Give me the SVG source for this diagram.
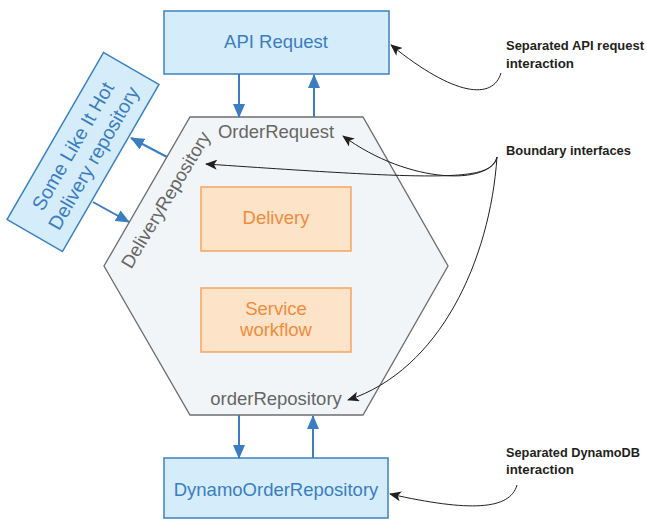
<svg xmlns="http://www.w3.org/2000/svg" width="647" height="520" viewBox="0 0 647 520">
<style>
.blue{fill:#d5ecfa;stroke:#3b82c4;stroke-width:1.5}
.btxt{font-family:"Liberation Sans",Arial,sans-serif;font-size:18.5px;fill:#3b7dc0;text-anchor:middle}
.gtxt{font-family:"Liberation Sans",Arial,sans-serif;font-size:18.5px;fill:#666;text-anchor:middle}
.org{fill:#fde4c8;stroke:#f5a55f;stroke-width:1.5}
.otxt{font-family:"Liberation Sans",Arial,sans-serif;font-size:18.5px;fill:#f28b3c;text-anchor:middle}
.ann{font-family:"Liberation Sans",Arial,sans-serif;font-size:13px;font-weight:bold;fill:#231f20}
.bl{stroke:#3b7dc0;stroke-width:2;fill:none;marker-end:url(#ab)}
.kl{stroke:#231f20;stroke-width:1;fill:none;marker-end:url(#ak)}
</style>
<defs>
<marker id="ab" markerUnits="userSpaceOnUse" markerWidth="14" markerHeight="12" viewBox="0 0 14 12" refX="13" refY="6" orient="auto"><path d="M0,0 L14,6 L0,12 Z" fill="#3b7dc0"/></marker>
<marker id="ak" markerUnits="userSpaceOnUse" markerWidth="12" markerHeight="10" viewBox="0 0 12 10" refX="11" refY="5" orient="auto"><path d="M0,0 L12,5 L0,10 L3,5 Z" fill="#231f20"/></marker>
</defs>
<g id="hexagon">
<polygon points="190,117 363,117 448,266 363,415 190,415 104,266" fill="#f1f5f7" stroke="#6d6d6d" stroke-width="1.3"/>
<text class="gtxt" x="276" y="138">OrderRequest</text>
<text class="gtxt" x="276" y="405">orderRepository</text>
<text class="gtxt" transform="translate(166,200) rotate(-59)" x="0" y="6">DeliveryRepository</text>
</g>
<g id="api-request">
<rect class="blue" x="164" y="11" width="225" height="63"/>
<text class="btxt" x="276" y="48">API Request</text>
</g>
<g id="dynamo">
<rect class="blue" x="164" y="458" width="224" height="60"/>
<text class="btxt" x="276" y="496">DynamoOrderRepository</text>
</g>
<g id="delivery">
<rect class="org" x="201" y="187" width="150" height="64"/>
<text class="otxt" x="276" y="224">Delivery</text>
</g>
<g id="workflow">
<rect class="org" x="201" y="288" width="150" height="64"/>
<text class="otxt" x="276" y="315">Service</text>
<text class="otxt" x="276" y="336">workflow</text>
</g>
<g id="some-like-it-hot" transform="translate(83,152) rotate(-60)">
<rect class="blue" x="-96.5" y="-32" width="193" height="64"/>
<text class="btxt" x="0" y="-5" style="font-size:19.5px">Some Like It Hot</text>
<text class="btxt" x="0" y="19" style="font-size:19.5px">Delivery repository</text>
</g>
<g id="connectors">
<line class="bl" x1="239" y1="74" x2="239" y2="117"/>
<line class="bl" x1="314" y1="117" x2="314" y2="75"/>
<line class="bl" x1="239" y1="415" x2="239" y2="458"/>
<line class="bl" x1="313" y1="458" x2="313" y2="416"/>
<line class="bl" x1="167" y1="157" x2="131" y2="138"/>
<line class="bl" x1="93" y1="202" x2="129" y2="222"/>
<path class="kl" d="M501,73 C493,100 455,97 391,45"/>
<path class="kl" d="M517,485 C510,510 470,512 390,494"/>
<path class="kl" d="M497,157 C490,185 410,185 343,136"/>
<path class="kl" d="M497,157 C492,182 440,180 206,164"/>
<path class="kl" d="M497,157 C490,260 440,370 348,400"/>
</g>
<g id="annotations">
<text class="ann" x="506" y="50" textLength="138" lengthAdjust="spacingAndGlyphs">Separated API request</text>
<text class="ann" x="506" y="68" textLength="68" lengthAdjust="spacingAndGlyphs">interaction</text>
<text class="ann" x="506" y="155" textLength="125" lengthAdjust="spacingAndGlyphs">Boundary interfaces</text>
<text class="ann" x="506" y="457" textLength="134" lengthAdjust="spacingAndGlyphs">Separated DynamoDB</text>
<text class="ann" x="506" y="474" textLength="68" lengthAdjust="spacingAndGlyphs">interaction</text>
</g>
</svg>
